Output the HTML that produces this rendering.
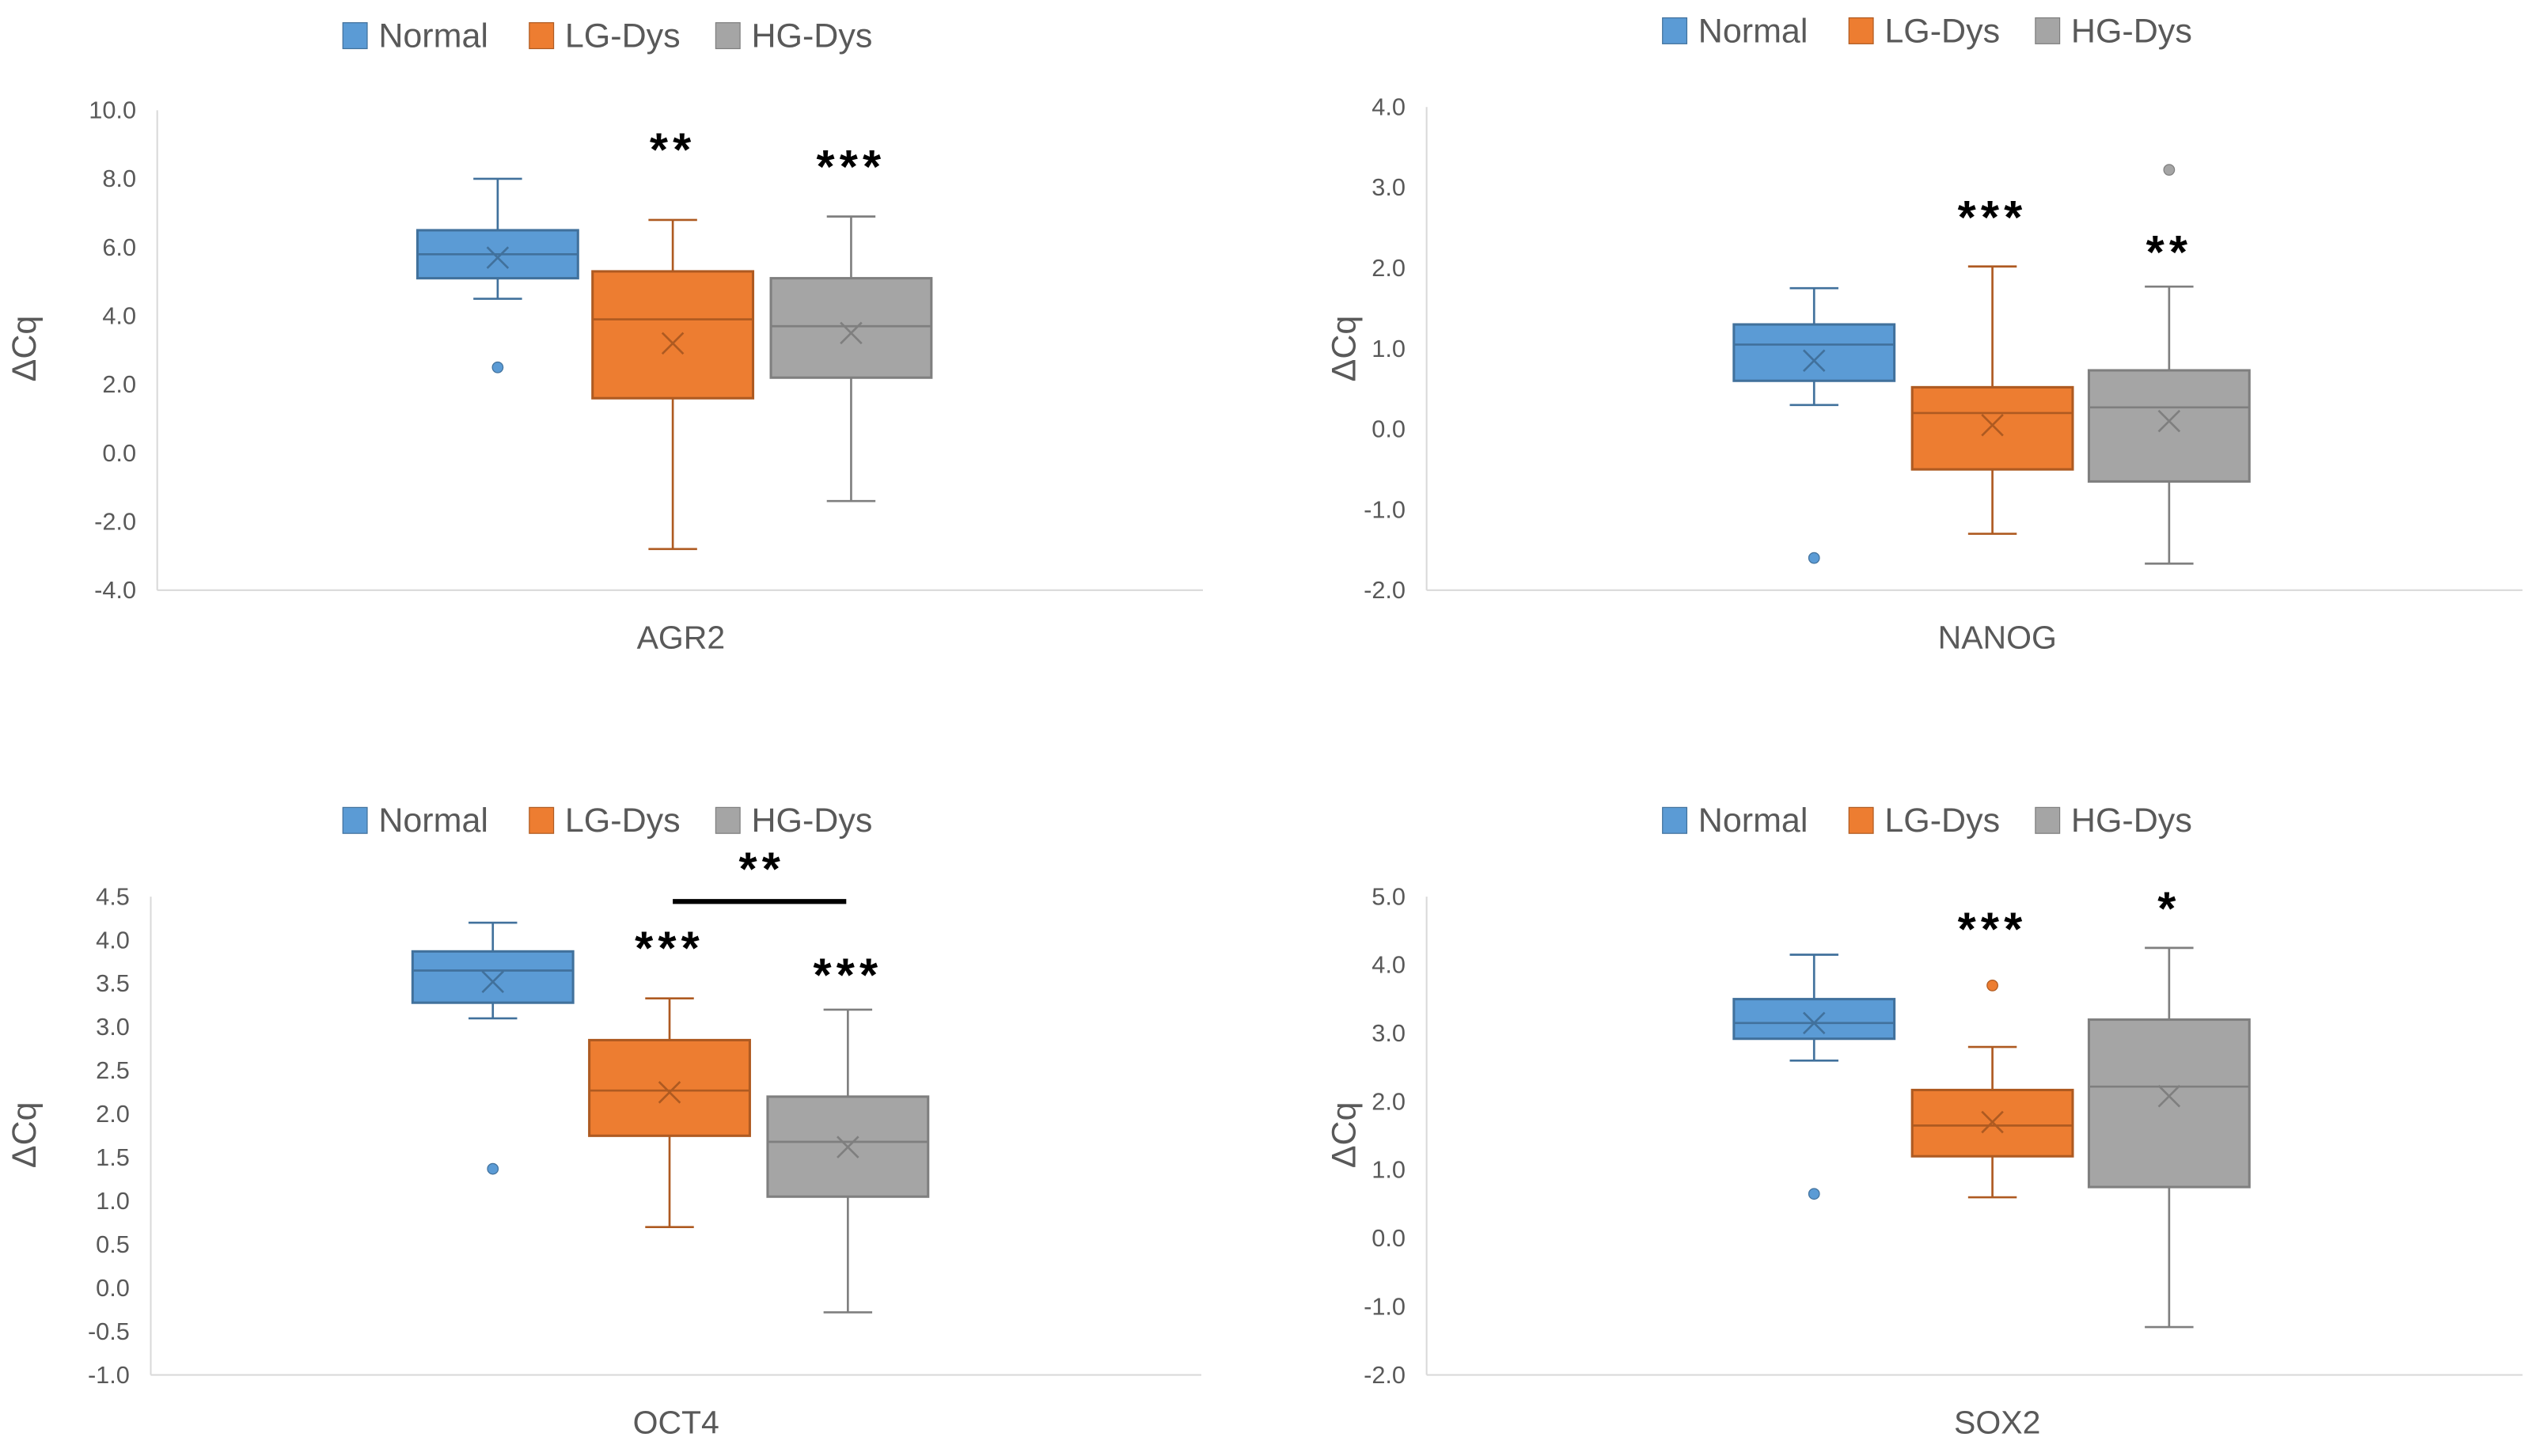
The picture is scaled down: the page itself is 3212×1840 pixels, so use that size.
<!DOCTYPE html>
<html><head><meta charset="utf-8">
<style>
html,body{margin:0;padding:0;background:#fff;}
svg{display:block;}
text{font-family:"Liberation Sans",sans-serif;}
</style></head>
<body>
<svg id="chart" width="3212" height="1840" viewBox="0 0 1568 898" preserveAspectRatio="none" xmlns="http://www.w3.org/2000/svg"></svg>
<script>
// ---- data ----
const groupNames = ["Normal", "LG-Dys", "HG-Dys"];
const genes = ["AGR2", "NANOG", "OCT4", "SOX2"];
// [whiskerMin, q1, median, q3, whiskerMax, mean]
const agr2Stats = [[4.5,5.1,5.8,6.5,8.0,5.7],[-2.8,1.6,3.9,5.3,6.8,3.2],[-1.4,2.2,3.7,5.1,6.9,3.5]];
const nanogStats = [[0.3,0.6,1.05,1.3,1.75,0.85],[-1.3,-0.5,0.2,0.52,2.02,0.05],[-1.67,-0.65,0.27,0.73,1.77,0.1]];
const oct4Stats = [[3.1,3.28,3.65,3.87,4.2,3.52],[0.7,1.75,2.27,2.85,3.33,2.25],[-0.28,1.05,1.68,2.2,3.2,1.62]];
const sox2Stats = [[2.6,2.92,3.15,3.5,4.15,3.15],[0.6,1.2,1.65,2.17,2.8,1.7],[-1.3,0.75,2.22,3.2,4.25,2.08]];
const agr2Outliers = [[2.5],[],[]];
const nanogOutliers = [[-1.6],[],[3.22]];
const oct4Outliers = [[1.37],[],[]];
const sox2Outliers = [[0.65],[3.7],[]];
const agr2Ticks = ["10.0","8.0","6.0","4.0","2.0","0.0","-2.0","-4.0"];
const nanogTicks = ["4.0","3.0","2.0","1.0","0.0","-1.0","-2.0"];
const oct4Ticks = ["4.5","4.0","3.5","3.0","2.5","2.0","1.5","1.0","0.5","0.0","-0.5","-1.0"];
const sox2Ticks = ["5.0","4.0","3.0","2.0","1.0","0.0","-1.0","-2.0"];
const agr2Stars = [["",0],["**",8.9],["***",8.4]];
const nanogStars = [["",0],["***",2.65],["**",2.22]];
const oct4Stars = [["",0],["***",3.93],["***",3.62]];
const sox2Stars = [["",0],["***",4.55],["*",4.85]];

const NS="http://www.w3.org/2000/svg";
const svg=document.getElementById('chart');
const fills=["#5b9bd5","#ed7d31","#a5a5a5"];
const strokes=["#41719c","#ae5a21","#7f7f7f"];
function mk(tag,attrs,parent){const e=document.createElementNS(NS,tag);for(const k in attrs)e.setAttribute(k,attrs[k]);(parent||svg).appendChild(e);return e;}

const panels=[
 {gene:genes[0],stats:agr2Stats,out:agr2Outliers,ticks:agr2Ticks,stars:agr2Stars,ax:97,top:68,bot:364,right:742,cx:[307,415,525],legY:22,legC:378,lbl:[420,400],yl:[22,215]},
 {gene:genes[1],stats:nanogStats,out:nanogOutliers,ticks:nanogTicks,stars:nanogStars,ax:880,top:66,bot:364,right:1556,cx:[1119,1229,1338],legY:19,legC:1192,lbl:[1232,400],yl:[836,215]},
 {gene:genes[2],stats:oct4Stats,out:oct4Outliers,ticks:oct4Ticks,stars:oct4Stars,ax:93,top:553,bot:848,right:741,cx:[304,413,523],legY:506,legC:378,lbl:[417,884],yl:[22,700]},
 {gene:genes[3],stats:sox2Stats,out:sox2Outliers,ticks:sox2Ticks,stars:sox2Stars,ax:880,top:553,bot:848,right:1556,cx:[1119,1229,1338],legY:506,legC:1192,lbl:[1232,884],yl:[836,700]}
];

panels.forEach(p=>{
 const g=mk('g',{});
 
 
 const vmax=parseFloat(p.ticks[0]), vmin=parseFloat(p.ticks[p.ticks.length-1]);
 const y=v=>p.bot-(v-vmin)/(vmax-vmin)*(p.bot-p.top);
 const ya=mk('line',{x1:p.ax,y1:p.top,x2:p.ax,y2:p.bot,stroke:"#d9d9d9","stroke-width":1},g);
 
 
 const xa=mk('line',{x1:p.ax,y1:p.bot,x2:p.right,y2:p.bot,stroke:"#d9d9d9","stroke-width":1},g);
 
 
 p.ticks.forEach(t=>{
  const tx=mk('text',{x:p.ax-13,y:y(parseFloat(t))+5,"text-anchor":"end","font-size":15,fill:"#595959"},g);
  tx.textContent=t;
  
  
 });
 const yt=mk('text',{x:p.yl[0],y:p.yl[1],"text-anchor":"middle","font-size":21,fill:"#595959",transform:`rotate(-90 ${p.yl[0]} ${p.yl[1]})`},g);
 yt.textContent="ΔCq";
 
 
 const xl=mk('text',{x:p.lbl[0],y:p.lbl[1],"text-anchor":"middle","font-size":20,fill:"#595959"},g);
 xl.textContent=p.gene;
 
 
 const lw=[115,115,115]; let lx=p.legC-(lw[0]+lw[1]+lw[2])/2+6;
 groupNames.forEach((n,i)=>{
  const lg=mk('g',{},g);
  
  
  mk('rect',{x:lx,y:p.legY-8,width:15,height:16,fill:fills[i],stroke:strokes[i],"stroke-width":0.6},lg);
  const t=mk('text',{x:lx+22,y:p.legY+7,"font-size":21,fill:"#595959"},lg);
  t.textContent=n;
  lx+=lw[i];
 });
 const hw=49.5, cap=15;
 p.stats.forEach((s,i)=>{
  const cx=p.cx[i];
  const bg=mk('g',{},g);
  
  
  const st={stroke:strokes[i],"stroke-width":1.3};
  mk('line',Object.assign({x1:cx,y1:y(s[4]),x2:cx,y2:y(s[3])},st),bg);
  mk('line',Object.assign({x1:cx,y1:y(s[0]),x2:cx,y2:y(s[1])},st),bg);
  mk('line',Object.assign({x1:cx-cap,y1:y(s[4]),x2:cx+cap,y2:y(s[4])},st),bg);
  mk('line',Object.assign({x1:cx-cap,y1:y(s[0]),x2:cx+cap,y2:y(s[0])},st),bg);
  mk('rect',{x:cx-hw,y:y(s[3]),width:2*hw,height:y(s[1])-y(s[3]),fill:fills[i],stroke:strokes[i],"stroke-width":1.5},bg);
  mk('line',Object.assign({x1:cx-hw,y1:y(s[2]),x2:cx+hw,y2:y(s[2])},st),bg);
  const my=y(s[5]),m=6.5;
  mk('path',Object.assign({d:`M${cx-m} ${my-m}L${cx+m} ${my+m}M${cx+m} ${my-m}L${cx-m} ${my+m}`,fill:"none"},st),bg);
  p.out[i].forEach(o=>{
   const c=mk('circle',{cx:cx,cy:y(o),r:3.3,fill:fills[i],stroke:strokes[i],"stroke-width":0.6},bg);
   
   
  });
  const sr=p.stars[i];
  if(sr[0]){
   const t=mk('text',{x:cx,y:y(sr[1])+11,"text-anchor":"middle","font-size":29,"font-weight":"bold",fill:"#000","letter-spacing":"3"},g);
   t.textContent=sr[0];
   
   
  }
 });
 if(p.gene==="OCT4"){
  const br=mk('line',{x1:415,y1:556,x2:522,y2:556,stroke:"#000","stroke-width":3},g);
  
  
  const t=mk('text',{x:470,y:546,"text-anchor":"middle","font-size":29,"font-weight":"bold",fill:"#000","letter-spacing":"3"},g);
  t.textContent="**";
  
  
 }
});
</script>
</body></html>
